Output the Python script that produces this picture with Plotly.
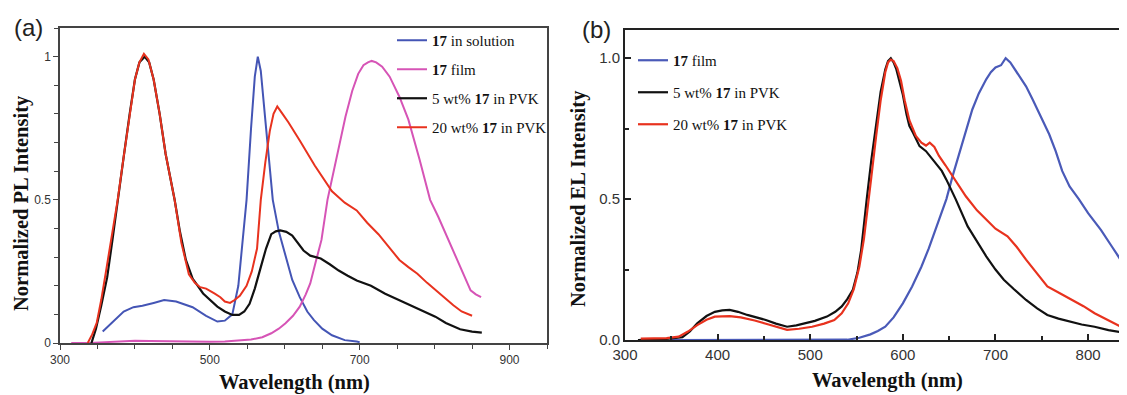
import plotly.graph_objects as go

# ---------------- Panel (a): PL spectra ----------------
a_sol_x = [357, 365, 375, 385, 398, 410, 425, 439, 455, 477, 495, 510, 520, 530, 538, 544, 549, 555, 560, 564, 568, 574, 579, 584, 592, 601, 610, 620, 630, 639, 650, 663, 680, 696, 700]
a_sol_y = [0.04, 0.06, 0.085, 0.11, 0.125, 0.13, 0.14, 0.15, 0.145, 0.125, 0.095, 0.075, 0.078, 0.10, 0.2, 0.35, 0.5, 0.75, 0.93, 1.0, 0.95, 0.78, 0.63, 0.5, 0.39, 0.30, 0.22, 0.16, 0.11, 0.08, 0.05, 0.027, 0.01, 0.005, 0.003]

a_film_x = [315, 340, 360, 380, 400, 420, 440, 460, 480, 500, 520, 540, 555, 570, 582, 592, 601, 611, 620, 628, 634, 641, 649, 657, 665, 673, 681, 690, 698, 705, 711, 716, 722, 730, 740, 753, 765, 780, 794, 805, 815, 825, 834, 842, 848, 855, 862]
a_film_y = [0, 0, 0.003, 0.005, 0.008, 0.007, 0.006, 0.005, 0.004, 0.004, 0.005, 0.008, 0.012, 0.02, 0.034, 0.05, 0.069, 0.095, 0.127, 0.17, 0.208, 0.28, 0.36, 0.5, 0.6, 0.7, 0.79, 0.88, 0.94, 0.97, 0.98, 0.985, 0.98, 0.965, 0.93, 0.86, 0.78, 0.64, 0.5, 0.44, 0.38, 0.32, 0.265, 0.22, 0.184, 0.17, 0.16]

a_5_x = [342, 348, 355, 363, 370, 377, 385, 393, 400, 406, 413, 419, 425, 433, 441, 453, 460, 468, 477, 491, 500, 510, 520, 530, 539, 546, 553, 560, 568, 575, 582, 588, 594, 602, 610, 617, 625, 634, 648, 660, 672, 684, 696, 715, 734, 753, 777, 801, 815, 834, 850, 863]
a_5_y = [0, 0.05, 0.13, 0.23, 0.36, 0.5, 0.65, 0.8, 0.92, 0.98, 1.0, 0.98, 0.92, 0.8, 0.66, 0.5, 0.39, 0.29, 0.225, 0.173, 0.15, 0.127, 0.11, 0.098, 0.098, 0.11, 0.137, 0.19, 0.265, 0.33, 0.38, 0.39, 0.393, 0.388, 0.375, 0.35, 0.323, 0.305, 0.295, 0.275, 0.253, 0.235, 0.218, 0.2, 0.172, 0.149, 0.12, 0.092, 0.07, 0.048, 0.04, 0.036]

a_20_x = [337, 343, 349, 355, 362, 370, 377, 385, 393, 400, 406, 412, 418, 425, 433, 441, 453, 462, 472, 480, 487, 495, 506, 514, 520, 527, 533, 540, 549, 556, 563, 568, 574, 580, 585, 590, 597, 605, 620, 640, 663, 680, 696, 710, 725, 740, 753, 765, 777, 790, 801, 813, 825, 836, 846, 850]
a_20_y = [0, 0.03, 0.07, 0.15, 0.26, 0.38, 0.5, 0.65, 0.8, 0.92, 0.98, 1.01, 0.99, 0.92, 0.8, 0.66, 0.5, 0.35, 0.24, 0.21, 0.195, 0.19, 0.173, 0.16, 0.145, 0.14, 0.15, 0.165, 0.2, 0.25, 0.33, 0.5, 0.63, 0.74, 0.8, 0.826, 0.8, 0.77, 0.707, 0.62, 0.53, 0.49, 0.463, 0.42, 0.38, 0.33, 0.29, 0.265, 0.242, 0.21, 0.185, 0.16, 0.132, 0.11, 0.098, 0.095]

# ---------------- Panel (b): EL spectra ----------------
b_film_x = [350, 400, 450, 500, 540, 553, 565, 573, 581, 590, 600, 610, 620, 628, 635, 641, 647, 654, 661, 668, 675, 682, 690, 695, 700, 706, 711, 716, 720, 726, 733, 740, 749, 758, 765, 772, 780, 790, 800, 814, 826, 838, 842]
b_film_y = [0, 0, 0, 0, 0.001, 0.008, 0.02, 0.032, 0.047, 0.08, 0.13, 0.19, 0.26, 0.325, 0.39, 0.445, 0.5, 0.585, 0.664, 0.745, 0.818, 0.875, 0.925, 0.95, 0.967, 0.975, 1.0, 0.985, 0.965, 0.938, 0.9, 0.854, 0.79, 0.73, 0.67, 0.6, 0.545, 0.5, 0.45, 0.39, 0.33, 0.27, 0.25]

b_5_x = [314, 330, 345, 362, 370, 378, 388, 397, 405, 413, 422, 432, 442, 452, 463, 475, 485, 495, 505, 518, 527, 534, 540, 546, 551, 555, 558, 561, 566, 571, 576, 581, 584, 587, 590, 593, 596, 600, 604, 607, 611, 618, 625, 630, 636, 642, 647, 657, 670, 680, 690, 700, 709, 720, 733, 745, 756, 768, 780, 793, 807, 822, 838, 842]
b_5_y = [0.0, 0.002, 0.004, 0.01, 0.03, 0.059, 0.085, 0.1, 0.105, 0.107, 0.1, 0.089, 0.08, 0.071, 0.058, 0.047, 0.052, 0.059, 0.068, 0.083, 0.1, 0.119, 0.145, 0.178, 0.24, 0.32, 0.4, 0.5, 0.64, 0.77, 0.88, 0.96, 0.99, 1.0, 0.985, 0.96, 0.925, 0.87, 0.8, 0.76, 0.735, 0.688, 0.67, 0.65, 0.628, 0.6, 0.569, 0.5, 0.403, 0.35, 0.297, 0.25, 0.214, 0.18, 0.142, 0.112, 0.089, 0.076, 0.065, 0.055, 0.047, 0.035, 0.026, 0.024]

b_20_x = [317, 330, 345, 358, 368, 378, 388, 397, 405, 413, 425, 440, 455, 465, 475, 488, 502, 515, 526, 534, 541, 547, 553, 558, 562, 566, 571, 576, 581, 584, 587, 590, 594, 598, 602, 607, 614, 620, 625, 629, 634, 639, 646, 654, 661, 668, 680, 690, 700, 713, 723, 733, 745, 756, 770, 783, 795, 807, 822, 838, 842]
b_20_y = [0.005, 0.005, 0.007, 0.012, 0.03, 0.053, 0.072, 0.083, 0.085, 0.085, 0.08, 0.069, 0.055, 0.045, 0.036, 0.04, 0.047, 0.058, 0.071, 0.095, 0.13, 0.18, 0.26, 0.36, 0.46, 0.58, 0.72, 0.85, 0.95, 0.985, 0.995, 0.99, 0.965, 0.92, 0.85, 0.78, 0.724, 0.7, 0.69, 0.70, 0.685, 0.653, 0.62, 0.581, 0.545, 0.51, 0.46, 0.427, 0.395, 0.368, 0.33, 0.285, 0.235, 0.19, 0.165, 0.142, 0.12, 0.095, 0.07, 0.042, 0.036]

a_names = ["<b>17</b> in solution", "<b>17</b> film", "5 wt% <b>17</b> in PVK", "20 wt% <b>17</b> in PVK"]
b_names = ["<b>17</b> film", "5 wt% <b>17</b> in PVK", "20 wt% <b>17</b> in PVK"]

a_xticks = [300, 500, 700, 900]
a_yticks = [0, 0.5, 1]
a_yticktext = ["0", "0.5", "1"]

# page body has an 8 px margin; figure is sized so it ends at the window edge
OFF = 8
W, H = 1127 - OFF, 395 - OFF
BLUE = "#4455b5"
MAG = "#d654b6"
RED = "#e8321e"
BLK = "#111111"
BLUE_B = "#4a5ab8"

fig = go.Figure()

for xs, ys, name, col, g in [
    (a_sol_x, a_sol_y, a_names[0], BLUE, "a1"),
    (a_film_x, a_film_y, a_names[1], MAG, "a2"),
    (a_5_x, a_5_y, a_names[2], BLK, "a3"),
    (a_20_x, a_20_y, a_names[3], RED, "a4"),
]:
    fig.add_trace(go.Scatter(x=xs, y=ys, mode="lines", name=name,
                             line=dict(color=col, width=2.2 if col == BLK else 2),
                             legendgroup=g, legend="legend",
                             xaxis="x", yaxis="y"))

for xs, ys, name, col, g in [
    (b_film_x, b_film_y, b_names[0], BLUE_B, "b1"),
    (b_5_x, b_5_y, b_names[1], BLK, "b2"),
    (b_20_x, b_20_y, b_names[2], RED, "b3"),
]:
    fig.add_trace(go.Scatter(x=xs, y=ys, mode="lines", name=name,
                             line=dict(color=col, width=2.2),
                             legendgroup=g, legend="legend2",
                             xaxis="x2", yaxis="y2"))

def px(v):
    return min(1.0, (v - OFF) / W)

def py(v):
    return (H - (v - OFF)) / H

tickfont_a = dict(family="Liberation Sans, Arial", size=12, color="#333")
tickfont_b = dict(family="Liberation Sans, Arial", size=15, color="#333")
legfont = dict(family="Liberation Serif, Times New Roman", size=15, color="#111")

fig.update_layout(
    width=W, height=H,
    margin=dict(l=0, r=0, t=0, b=0, autoexpand=False),
    paper_bgcolor="white", plot_bgcolor="white",
    xaxis=dict(domain=[px(60), px(547)], range=[300, 950], tickvals=a_xticks,
               ticks="outside", ticklen=5, tickcolor="#444", tickwidth=1,
               minor=dict(dtick=50, ticks="outside", ticklen=4, tickcolor="#444"),
               showline=True, mirror=True, linecolor="#444", linewidth=1.5,
               showgrid=False, zeroline=False, tickfont=tickfont_a, anchor="y", automargin=False),
    yaxis=dict(domain=[py(343), py(28)], range=[0, 1.1], tickvals=a_yticks, ticktext=a_yticktext,
               ticks="outside", ticklen=5, tickcolor="#444",
               minor=dict(dtick=0.1, ticks="outside", ticklen=4, tickcolor="#444"),
               showline=True, mirror=True, linecolor="#444", linewidth=1.5,
               showgrid=False, zeroline=False, tickfont=tickfont_a, anchor="x", automargin=False),
    xaxis2=dict(domain=[px(625), 1.0], range=[300, 842], dtick=100,
                ticks="inside", ticklen=6, tickcolor="#222", tickwidth=1.5,
                minor=dict(dtick=50, ticks="inside", ticklen=4, tickcolor="#222"),
                showline=True, mirror=True, linecolor="#222", linewidth=2,
                showgrid=False, zeroline=False, tickfont=tickfont_b, anchor="y2", automargin=False),
    yaxis2=dict(domain=[py(340), py(30)], range=[0, 1.1], dtick=0.5, tickformat=".1f",
                ticks="inside", ticklen=6, tickcolor="#222", tickwidth=1.5,
                minor=dict(dtick=0.25, ticks="inside", ticklen=4, tickcolor="#222"),
                showline=True, mirror=False, linecolor="#222", linewidth=2,
                showgrid=False, zeroline=False, tickfont=tickfont_b, anchor="x2", automargin=False),
    legend=dict(x=px(392), y=py(24), xanchor="left", yanchor="top",
                bgcolor="rgba(0,0,0,0)", font=legfont, tracegroupgap=6.5,
                itemwidth=30),
    legend2=dict(x=px(633), y=py(44), xanchor="left", yanchor="top",
                 bgcolor="rgba(0,0,0,0)", font=legfont, tracegroupgap=9.5,
                 itemwidth=30),
    showlegend=True,
)

title_font = dict(family="Liberation Serif, Times New Roman", size=20.5, color="#111")
ann = [
    dict(text="(a)", x=px(28), y=py(27), font=dict(family="Liberation Sans, Arial", size=24, color="#222")),
    dict(text="(b)", x=px(596), y=py(30), font=dict(family="Liberation Sans, Arial", size=24, color="#222")),
    dict(text="<b>Normalized PL Intensity</b>", x=px(21), y=py(203), textangle=-90, font=title_font),
    dict(text="<b>Normalized EL Intensity</b>", x=px(578), y=py(199), textangle=-90, font=title_font),
    dict(text="<b>Wavelength (nm)</b>", x=px(294), y=py(382), font=title_font),
    dict(text="<b>Wavelength (nm)</b>", x=px(887), y=py(380), font=title_font),
]
for a in ann:
    a.update(xref="paper", yref="paper", showarrow=False, xanchor="center", yanchor="middle")
fig.update_layout(annotations=ann)

fig.write_html("out.html")
